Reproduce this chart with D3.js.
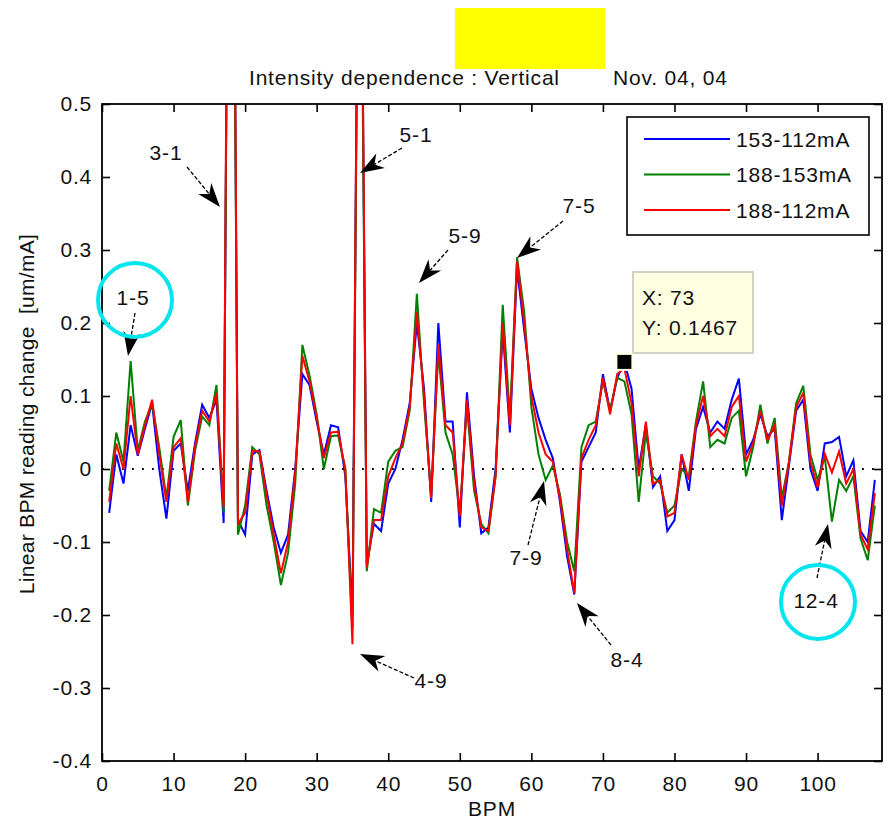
<!DOCTYPE html>
<html><head><meta charset="utf-8">
<script src="https://cdn.jsdelivr.net/npm/d3@7"></script>
<style>
html,body{margin:0;padding:0;background:#fff;}
svg{display:block;font-family:"Liberation Sans",Arial,Helvetica,sans-serif;}
</style></head><body>
<svg id="chart" width="888" height="825"></svg>
<script>
// ---------------- data ----------------
const bpm = Array.from({length:108}, (_, i) => i + 1);
const s153_112 = [ // blue
 -0.06,0.02,-0.02,0.06,0.018,0.055,0.09,0.0,-0.068,0.025,
 0.035,-0.03,0.035,0.088,0.07,0.095,-0.074,1.45,-0.07,-0.09,
 0.02,0.026,-0.03,-0.08,-0.115,-0.09,0.0,0.13,0.115,0.065,
 0.02,0.06,0.057,-0.01,-0.2,1.05,-0.13,-0.075,-0.085,-0.02,
 0.0,0.04,0.09,0.2,0.11,-0.045,0.2,0.065,0.065,-0.08,
 0.105,-0.01,-0.088,-0.08,0.0,0.19,0.05,0.275,0.19,0.11,
 0.07,0.04,0.015,-0.045,-0.12,-0.172,0.01,0.03,0.05,0.13,
 0.08,0.125,0.1467,0.11,0.0,0.06,-0.025,-0.01,-0.085,-0.07,
 0.02,-0.03,0.055,0.085,0.05,0.065,0.055,0.095,0.124,0.02,
 0.04,0.075,0.045,0.055,-0.07,0.005,0.08,0.095,0.0,-0.03,
 0.035,0.037,0.044,-0.01,0.012,-0.085,-0.1,-0.015];
const s188_153 = [ // green
 -0.03,0.05,0.01,0.148,0.025,0.065,0.09,0.03,-0.04,0.044,
 0.067,-0.05,0.025,0.072,0.06,0.115,-0.06,1.4,-0.09,-0.05,
 0.03,0.02,-0.05,-0.1,-0.159,-0.115,-0.02,0.17,0.128,0.075,
 0.0,0.045,0.046,0.0,-0.22,1.0,-0.14,-0.055,-0.06,0.01,
 0.025,0.03,0.08,0.24,0.09,-0.035,0.16,0.05,0.02,-0.06,
 0.085,-0.03,-0.075,-0.088,-0.01,0.225,0.07,0.29,0.215,0.085,
 0.02,-0.015,0.005,-0.035,-0.1,-0.14,0.03,0.06,0.065,0.12,
 0.08,0.125,0.12,0.075,-0.045,0.05,-0.01,-0.02,-0.06,-0.05,
 0.0,-0.01,0.065,0.12,0.03,0.04,0.035,0.07,0.08,-0.01,
 0.03,0.088,0.035,0.07,-0.04,0.01,0.09,0.114,0.02,-0.015,
 0.017,-0.072,-0.015,-0.03,-0.01,-0.095,-0.125,-0.05];
const s188_112 = [ // red
 -0.045,0.035,0.0,0.10,0.02,0.06,0.095,0.02,-0.045,0.03,
 0.042,-0.045,0.03,0.08,0.065,0.104,-0.052,1.5,-0.075,-0.06,
 0.025,0.024,-0.035,-0.09,-0.143,-0.1,-0.005,0.155,0.12,0.07,
 0.015,0.05,0.051,0.0,-0.24,1.1,-0.135,-0.07,-0.07,-0.01,
 0.015,0.035,0.085,0.215,0.1,-0.04,0.17,0.06,0.05,-0.065,
 0.095,-0.02,-0.08,-0.085,-0.01,0.2,0.06,0.285,0.2,0.1,
 0.05,0.02,0.01,-0.04,-0.11,-0.17,0.015,0.04,0.06,0.125,
 0.075,0.13,0.138,0.09,-0.01,0.065,-0.02,-0.015,-0.065,-0.06,
 0.02,-0.015,0.06,0.1,0.045,0.055,0.045,0.085,0.1,0.01,
 0.035,0.08,0.04,0.06,-0.05,0.01,0.085,0.104,0.01,-0.025,
 0.021,-0.005,0.024,-0.02,0.0,-0.09,-0.11,-0.033];
const seriesNames = ["153-112mA", "188-153mA", "188-112mA"];
const seriesColors = ["#0000ff", "#008000", "#ff0000"];
const xTicks = [0,10,20,30,40,50,60,70,80,90,100];
const xTickLabels = ["0","10","20","30","40","50","60","70","80","90","100"];
const yTicks = [0.5,0.4,0.3,0.2,0.1,0,-0.1,-0.2,-0.3,-0.4];
const yTickLabels = ["0.5","0.4","0.3","0.2","0.1","0","-0.1","-0.2","-0.3","-0.4"];
const titleLeft = "Intensity dependence : Vertical";
const titleRight = "Nov. 04, 04";
const xLabel = "BPM";
const yLabel = "Linear BPM reading change  [um/mA]";
const tipX = 73, tipY = 0.1467;

// ---------------- layout ----------------
const L = 102, R = 882, T = 104, B = 761;
const FONT = 21, LS = "0.8px", INK = "#111";
const svg = d3.select("#chart");
const x = d3.scaleLinear().domain([0, 109]).range([L, R]);
const y = d3.scaleLinear().domain([-0.4, 0.5]).range([B, T]);

// yellow patch
svg.append("rect").attr("x",455).attr("y",8).attr("width",150).attr("height",61).attr("fill","#ffff00");

// title
svg.append("text").attr("x",249).attr("y",85).text(titleLeft)
  .attr("font-size",FONT).attr("fill",INK).style("letter-spacing",LS);
svg.append("text").attr("x",613).attr("y",85).text(titleRight)
  .attr("font-size",FONT).attr("fill",INK).style("letter-spacing",LS);

// clip
svg.append("clipPath").attr("id","clip").append("rect")
  .attr("x",L).attr("y",T).attr("width",R-L).attr("height",B-T);

// zero dotted line
svg.append("line").attr("x1",L).attr("x2",R).attr("y1",y(0)).attr("y2",y(0))
  .attr("stroke","#000").attr("stroke-width",1.8).attr("stroke-dasharray","1.8,8.2");

// data lines
const line = d3.line().x((d,i) => x(bpm[i])).y(d => y(d));
const allSeries = [s153_112, s188_153, s188_112];
const gData = svg.append("g").attr("clip-path","url(#clip)");
allSeries.forEach((s, k) => {
  gData.append("path").attr("d", line(s)).attr("fill","none")
    .attr("stroke", seriesColors[k]).attr("stroke-width", 2)
    .attr("stroke-linejoin","miter");
});

// axes
function styleAxis(g){
  g.select(".domain").remove();
  g.selectAll("line").attr("stroke","#000").attr("stroke-width",1.6);
  g.selectAll("text").attr("font-size",FONT).attr("fill",INK)
    .attr("font-family",null).style("letter-spacing",LS);
  g.attr("font-family",null);
}
svg.append("g").attr("transform",`translate(0,${B})`)
  .call(d3.axisBottom(x).tickValues(xTicks).tickFormat((d,i)=>xTickLabels[i])
    .tickSize(-8).tickSizeOuter(0).tickPadding(15)).call(styleAxis);
svg.append("g").attr("transform",`translate(0,${T})`)
  .call(d3.axisTop(x).tickValues(xTicks).tickFormat("").tickSize(-8).tickSizeOuter(0)).call(styleAxis);
svg.append("g").attr("transform",`translate(${L},0)`)
  .call(d3.axisLeft(y).tickValues(yTicks).tickFormat((d,i)=>yTickLabels[i])
    .tickSize(-8).tickSizeOuter(0).tickPadding(10)).call(styleAxis);
svg.append("g").attr("transform",`translate(${R},0)`)
  .call(d3.axisRight(y).tickValues(yTicks).tickFormat("").tickSize(-8).tickSizeOuter(0)).call(styleAxis);
svg.append("rect").attr("x",L).attr("y",T).attr("width",R-L).attr("height",B-T)
  .attr("fill","none").attr("stroke","#000").attr("stroke-width",1.8);

// axis labels
svg.append("text").attr("x",(L+R)/2).attr("y",816).attr("text-anchor","middle")
  .attr("font-size",FONT).attr("fill",INK).style("letter-spacing",LS).text(xLabel);
svg.append("text").attr("transform","translate(34,414) rotate(-90)").attr("text-anchor","middle")
  .attr("font-size",FONT).attr("fill",INK).style("letter-spacing","0.3px")
  .style("white-space","pre").text(yLabel);

// legend
const lg = svg.append("g");
lg.append("rect").attr("x",627).attr("y",117).attr("width",242).attr("height",118)
  .attr("fill","#fff").attr("stroke","#000").attr("stroke-width",1.6);
seriesNames.forEach((n,k) => {
  const yy = 139 + k*35.5;
  lg.append("line").attr("x1",644).attr("x2",730).attr("y1",yy).attr("y2",yy)
    .attr("stroke",seriesColors[k]).attr("stroke-width",2);
  lg.append("text").attr("x",736).attr("y",yy+7.5).text(n)
    .attr("font-size",FONT).attr("fill",INK).style("letter-spacing",LS);
});

// data tip
const tipG = svg.append("g");
tipG.append("rect").attr("x",633).attr("y",272).attr("width",120).attr("height",81)
  .attr("fill","#ffffe1").attr("stroke","#d2d2c4").attr("stroke-width",2);
tipG.append("text").attr("x",642).attr("y",305).text("X: " + tipX)
  .attr("font-size",FONT).attr("fill",INK).style("letter-spacing",LS);
tipG.append("text").attr("x",642).attr("y",335).text("Y: " + tipY)
  .attr("font-size",FONT).attr("fill",INK).style("letter-spacing",LS);
tipG.append("rect").attr("x",x(tipX)-8).attr("y",y(tipY)-8).attr("width",16).attr("height",16)
  .attr("fill","#000").attr("stroke","#ffffe1").attr("stroke-width",2);

// annotations (figure coordinates)
const notes = [
  {t:"1-5", tx:133, ty:305, x1:135, y1:313, x2:128, y2:356},
  {t:"3-1", tx:166, ty:160, x1:187, y1:167, x2:220, y2:207},
  {t:"5-1", tx:416, ty:142, x1:402, y1:148, x2:360, y2:173},
  {t:"5-9", tx:465, ty:243, x1:448, y1:250, x2:419, y2:283},
  {t:"7-5", tx:579, ty:213, x1:563, y1:221, x2:517, y2:258},
  {t:"7-9", tx:526, ty:565, x1:528, y1:545, x2:544, y2:481},
  {t:"8-4", tx:627, ty:667, x1:611, y1:645, x2:577, y2:603},
  {t:"4-9", tx:431, ty:688, x1:414, y1:678, x2:360, y2:654},
  {t:"12-4", tx:816, ty:608, x1:817, y1:578, x2:828, y2:524}
];
const ag = svg.append("g");
notes.forEach(n => {
  const dx = n.x2-n.x1, dy = n.y2-n.y1, len = Math.hypot(dx,dy);
  const ux = dx/len, uy = dy/len, px = -uy, py = ux;
  const HL = 24, HW = 8.5;
  const bx = n.x2 - ux*HL*0.7, by = n.y2 - uy*HL*0.7;
  ag.append("line").attr("x1",n.x1).attr("y1",n.y1).attr("x2",bx).attr("y2",by)
    .attr("stroke","#000").attr("stroke-width",1.3).attr("stroke-dasharray","4,2");
  const pts = [
    [n.x2, n.y2],
    [n.x2 - ux*HL + px*HW, n.y2 - uy*HL + py*HW],
    [bx, by],
    [n.x2 - ux*HL - px*HW, n.y2 - uy*HL - py*HW]
  ];
  ag.append("polygon").attr("points", pts.map(p=>p.join(",")).join(" ")).attr("fill","#000");
  ag.append("text").attr("x",n.tx).attr("y",n.ty).attr("text-anchor","middle").text(n.t)
    .attr("font-size",FONT).attr("fill",INK).style("letter-spacing",LS);
});

// cyan highlight circles
[[135,300],[818,602]].forEach(c => {
  svg.append("circle").attr("cx",c[0]).attr("cy",c[1]).attr("r",37)
    .attr("fill","none").attr("stroke","#00e5ee").attr("stroke-width",4);
});
</script>
</body></html>
